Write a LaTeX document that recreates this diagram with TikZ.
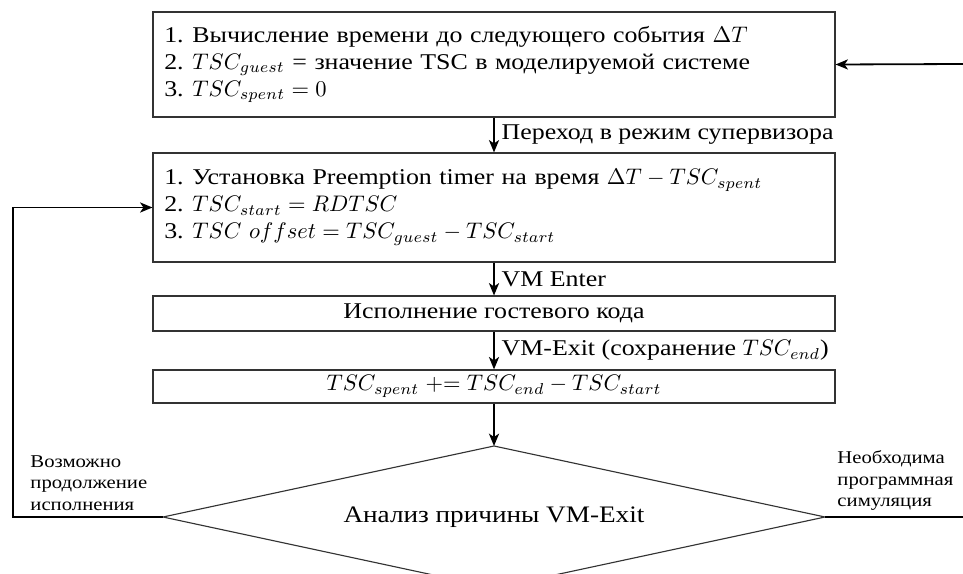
\documentclass[tikz,border=0pt]{standalone}
\usepackage[no-math]{fontspec}
\IfFontExistsTF{CMU Serif}
  {\setmainfont{CMU Serif}}
  {\setmainfont{Liberation Serif}[FakeStretch=1.15]}
\usetikzlibrary{arrows.meta}

\tikzset{
  txt/.style={font=\fontsize{10}{12}\selectfont},
  box/.style={draw=black!80, line width=0.5pt, minimum width=302.8pt,
    inner xsep=5pt, inner ysep=2pt, txt},
  listbox/.style={box, text width=292.8pt, align=left},
  plainbox/.style={box},
  outline/.style={draw=black!80, line width=0.5pt},
  flow/.style={line width=0.8pt, -{Stealth[length=5.5pt,width=4.5pt,inset=1.5pt]}},
  wire/.style={line width=0.8pt},
  lbl/.style={right, inner sep=1pt, xshift=2pt, txt},
  side/.style={align=left, inner sep=0pt, font=\fontsize{8}{9.5}\selectfont}
}
\newcommand{\itm}[1]{\makebox[1.25em][l]{#1}}

\begin{document}
\begin{tikzpicture}[x=0.444pt, y=-0.444pt]
\useasboundingbox (0,0) rectangle (963,573);

% process boxes
\node[listbox, minimum height=46.6pt] (b1) at (494,64.5) {%
  \itm{1.}Вычисление времени до следующего события $\Delta T$\\
  \itm{2.}$TSC_{guest}$ = значение TSC в моделируемой системе\\
  \itm{3.}$TSC_{spent} = 0$};

\node[listbox, minimum height=48.4pt] (b2) at (494,207.5) {%
  \itm{1.}Установка Preemption timer на время $\Delta T - TSC_{spent}$\\
  \itm{2.}$TSC_{start} = RDTSC$\\
  \itm{3.}$TSC\ offset = TSC_{guest} - TSC_{start}$};

\node[plainbox, minimum height=15.5pt] (b3) at (494,313.5)
  {Исполнение гостевого кода};

\node[plainbox, minimum height=14.7pt] (b4) at (494,386.5)
  {$TSC_{spent} \mathrel{+}\mathrel{=} TSC_{end} - TSC_{start}$};

% decision diamond
\coordinate (dn) at (494,446);
\coordinate (de) at (825,517);
\coordinate (ds) at (494,588);
\coordinate (dw) at (163,517);
\draw[outline] (dn) -- (de) -- (ds) -- (dw) -- cycle;
\node[font=\fontsize{10.5}{12}\selectfont] (d) at (494,517) {Анализ причины VM-Exit};

% main flow
\draw[flow] (b1.south) -- node[lbl, midway] {Переход в режим супервизора} (b2.north);
\draw[flow] (b2.south) -- node[lbl, midway] {VM Enter} (b3.north);
\draw[flow] (b3.south) -- node[lbl, midway] {VM-Exit (сохранение $TSC_{end}$)} (b4.north);
\draw[flow] (b4.south) -- (dn);

% loop back on the left
\coordinate (lp) at (13,517);
\draw[flow] (dw) -- (lp) |- (b2.west);

% branch on the right
\coordinate (rp) at (963,517);
\coordinate (rq) at (963,64);
\draw[wire] (de) -- (rp);
\draw[flow] (rq) -- (b1.east);

% branch labels
\node[side, anchor=south west] (ll) at (30,511)
  {Возможно\\продолжение\\исполнения};
\node[side, anchor=south west] (rl) at (837,511)
  {Необходима\\программная\\симуляция};
\end{tikzpicture}
\end{document}
